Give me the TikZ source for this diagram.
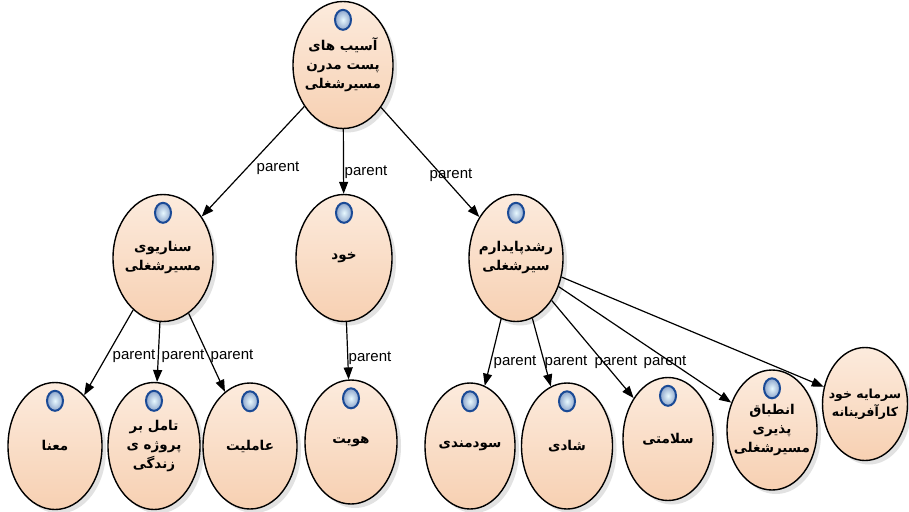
\documentclass[tikz,border=0pt]{standalone}
\usepackage{fontspec}
\setmainfont{Liberation Sans}
\newfontfamily\arabicfont[Script=Arabic]{DejaVu Sans}
\TeXXeTstate=1
\usetikzlibrary{shapes.geometric,shadows,arrows.meta}
\newcommand{\arb}{\arabicfont\bfseries}
\definecolor{peachT}{HTML}{FCEBDD}
\definecolor{peachB}{HTML}{F7D0B2}
\definecolor{rim}{HTML}{1A4A96}
\definecolor{glow}{HTML}{E8F9FF}
\tikzset{
  ent/.style={ellipse, draw=black, line width=1.4pt, top color=peachT, bottom color=peachB,
    drop shadow={shadow xshift=4pt, shadow yshift=-4pt, opacity=0.25, fill=black!45},
    inner sep=0pt},
  txt/.style={align=center, inner sep=0pt, font=\fontsize{13.5}{19}\selectfont},
  lbl/.style={font=\fontsize{15}{17}\selectfont, inner sep=1pt},
  rel/.style={-{Triangle[length=12pt,width=9pt]}, line width=1.2pt},
  knobst/.style={draw=rim, line width=2pt, inner color=glow, outer color=rim!50}
}
\newcommand{\knob}[1]{\path[knobst] ([yshift=-19pt]#1.north) ellipse [x radius=8, y radius=10];}
\begin{document}
\begin{tikzpicture}[x=1pt,y=-1pt]
\useasboundingbox[fill=white] (0,0) rectangle (909,511);
% nodes
\node[ent, minimum width=100pt, minimum height=127pt, label={[txt]center:{{\arb\beginR آسیب های\endR}\\{\arb\beginR پست مدرن\endR}\\{\arb\beginR مسیرشغلی\endR}}}] (root) at (343,65) {};
\node[ent, minimum width=100pt, minimum height=127pt, label={[txt]center:{{\arb\beginR سناریوی\endR}\\{\arb\beginR مسیرشغلی\endR}}}] (sc) at (163,258) {};
\node[ent, minimum width=96pt, minimum height=127pt, label={[txt]center:{{\arb\beginR خود\endR}}}] (khod) at (344,258) {};
\node[ent, minimum width=94pt, minimum height=127pt, label={[txt]center:{{\arb\beginR رشدپایدارم\endR}\\{\arb\beginR سیرشغلی\endR}}}] (roshd) at (516,258) {};
\node[ent, minimum width=94pt, minimum height=127pt, label={[txt]center:{{\arb\beginR معنا\endR}}}] (mana) at (55,446) {};
\node[ent, minimum width=92pt, minimum height=127pt, label={[txt]center:{{\arb\beginR تامل بر\endR}\\{\arb\beginR پروژه ی\endR}\\{\arb\beginR زندگی\endR}}}] (tamol) at (154,446) {};
\node[ent, minimum width=94pt, minimum height=126pt, label={[txt]center:{{\arb\beginR عاملیت\endR}}}] (amel) at (250,446) {};
\node[ent, minimum width=92pt, minimum height=124pt, label={[txt]center:{{\arb\beginR هویت\endR}}}] (hoviat) at (351,442) {};
\node[ent, minimum width=90pt, minimum height=126pt, label={[txt]center:{{\arb\beginR سودمندی\endR}}}] (sud) at (470,446) {};
\node[ent, minimum width=91pt, minimum height=126pt, label={[txt]center:{{\arb\beginR شادی\endR}}}] (shadi) at (567,446) {};
\node[ent, minimum width=90pt, minimum height=123pt, label={[txt]center:{{\arb\beginR سلامتی\endR}}}] (salam) at (668,439) {};
\node[ent, minimum width=90pt, minimum height=120pt, label={[txt]center:{{\arb\beginR انطباق\endR}\\{\arb\beginR پذیری\endR}\\{\arb\beginR مسیرشغلی\endR}}}] (enteb) at (772,430) {};
\node[ent, minimum width=85pt, minimum height=113pt, label={[txt, font=\fontsize{12.5}{18}\selectfont]center:{{\arb\beginR سرمایه خود\endR}\\{\arb\beginR کارآفرینانه\endR}}}] (sarm) at (865,404) {};
% knobs
\knob{root}\knob{sc}\knob{khod}\knob{roshd}\knob{mana}\knob{tamol}\knob{amel}
\knob{hoviat}\knob{sud}\knob{shadi}\knob{salam}\knob{enteb}
% connectors
\draw[rel] (root) -- (sc);
\draw[rel] (root) -- (khod);
\draw[rel] (root) -- (roshd);
\draw[rel] (sc) -- (mana);
\draw[rel] (sc) -- (tamol);
\draw[rel] (sc) -- (amel);
\draw[rel] (khod) -- (hoviat);
\draw[rel] (roshd) -- (sud);
\draw[rel] (roshd) -- (shadi);
\draw[rel] (roshd) -- (salam);
\draw[rel] (roshd) -- (enteb);
\draw[rel] (roshd) -- (sarm);
% labels
\node[lbl] (l1) at (278,168) {parent};
\node[lbl] (l2) at (366,172) {parent};
\node[lbl] (l3) at (451,175) {parent};
\node[lbl] (l4) at (134,356) {parent};
\node[lbl] (l5) at (183,356) {parent};
\node[lbl] (l6) at (232,356) {parent};
\node[lbl] (l7) at (370,358) {parent};
\node[lbl] (l8) at (515,362) {parent};
\node[lbl] (l9) at (566,362) {parent};
\node[lbl] (l10) at (616,362) {parent};
\node[lbl] (l11) at (665,362) {parent};
\end{tikzpicture}
\end{document}
